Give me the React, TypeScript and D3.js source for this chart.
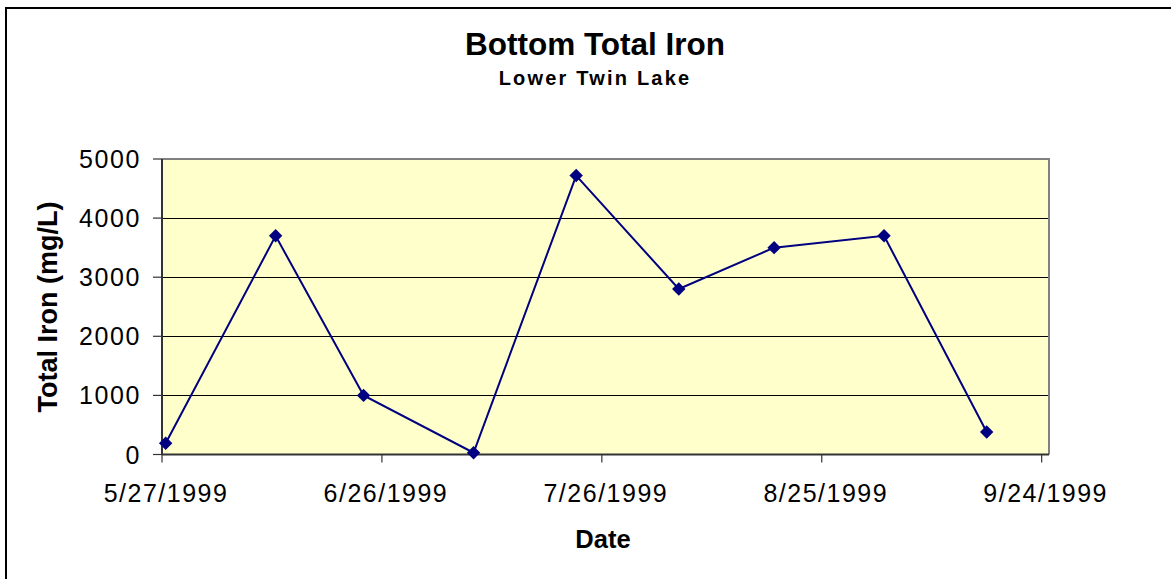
import * as d3 from 'd3';

const sampleDates = [
  '1999-05-27', '1999-06-11', '1999-06-23', '1999-07-08', '1999-07-22',
  '1999-08-05', '1999-08-18', '1999-09-02', '1999-09-16',
];
const ironValues = [190, 3700, 1000, 30, 4720, 2800, 3500, 3700, 380];
const xTickDates = ['1999-05-27', '1999-06-26', '1999-07-26', '1999-08-25', '1999-09-24'];
const yTicks = [0, 1000, 2000, 3000, 4000, 5000];

const W = 1171, H = 579;
const ML = 162, MR = 1049, MT = 159, MB = 454.5;
const FONT = '"Liberation Sans", Arial, sans-serif';
const HALF_DAY = 12 * 3600 * 1000;

const parse = d3.utcParse('%Y-%m-%d');
const fmt = d3.utcFormat('%-m/%-d/%Y');

export default function App() {
  const x = d3.scaleUtc()
    .domain([parse('1999-05-27')!, parse('1999-09-25')!])
    .range([ML, MR]);
  const y = d3.scaleLinear().domain([0, 5000]).range([MB, MT]);

  // excel puts each point in the middle of its day slot
  const pts = sampleDates.map((d, i) => ({
    x: x(new Date(parse(d)!.getTime() + HALF_DAY)),
    y: y(ironValues[i]),
  }));
  const line = d3.line<{ x: number; y: number }>().x((d) => d.x).y((d) => d.y);
  const marker = d3.symbol(d3.symbolSquare, 90)();

  return (
    <svg width={W} height={H} style={{ position: 'absolute', left: 0, top: 0 }} fontFamily={FONT}>
      <rect x={6} y={8} width={1200} height={620} fill="#fff" stroke="#000" strokeWidth={2} />

      <text x={595} y={55} textAnchor="middle" fontSize={31.5} fontWeight="bold">
        Bottom Total Iron
      </text>
      <text x={595} y={85} textAnchor="middle" fontSize={20} fontWeight="bold" letterSpacing={2.2}>
        Lower Twin Lake
      </text>

      {/* plot area */}
      <rect x={ML} y={MT} width={MR - ML} height={MB - MT} fill="#FFFFCC" />
      {yTicks.slice(1, -1).map((t) => (
        <line key={t} x1={ML} x2={MR} y1={Math.round(y(t)) + 0.5} y2={Math.round(y(t)) + 0.5} stroke="#000" strokeWidth={1} />
      ))}
      <polyline
        points={`${ML},${MT} ${MR},${MT} ${MR},${MB}`}
        fill="none"
        stroke="#808080"
        strokeWidth={2}
      />

      {/* y axis */}
      <line x1={ML} x2={ML} y1={MT} y2={MB} stroke="#333" strokeWidth={2} />
      {yTicks.map((t) => (
        <g key={t}>
          <line x1={ML - 9} x2={ML} y1={y(t)} y2={y(t)} stroke="#333" strokeWidth={1.2} />
          <text
            x={141}
            y={y(t)}
            dy="0.36em"
            textAnchor="end"
            fontSize={25}
            letterSpacing={1.6}
          >
            {t}
          </text>
        </g>
      ))}

      {/* x axis */}
      <line x1={ML} x2={MR} y1={MB} y2={MB} stroke="#333" strokeWidth={2} />
      {xTickDates.map((d) => {
        const tx = x(parse(d)!);
        return (
          <g key={d}>
            <line x1={tx} x2={tx} y1={MB} y2={MB + 8} stroke="#333" strokeWidth={1.2} />
            <text x={tx + 4} y={502} textAnchor="middle" fontSize={25} letterSpacing={1.5}>
              {fmt(parse(d)!)}
            </text>
          </g>
        );
      })}

      {/* series */}
      <path d={line(pts) ?? ''} fill="none" stroke="#000080" strokeWidth={2} />
      {pts.map((p, i) => (
        <path
          key={i}
          d={marker ?? ''}
          transform={`translate(${p.x},${p.y}) rotate(45)`}
          fill="#000080"
        />
      ))}

      <text x={603} y={548} textAnchor="middle" fontSize={25.5} fontWeight="bold">
        Date
      </text>
      <text
        transform="translate(57,307) rotate(-90)"
        textAnchor="middle"
        fontSize={27}
        fontWeight="bold"
      >
        Total Iron (mg/L)
      </text>
    </svg>
  );
}
